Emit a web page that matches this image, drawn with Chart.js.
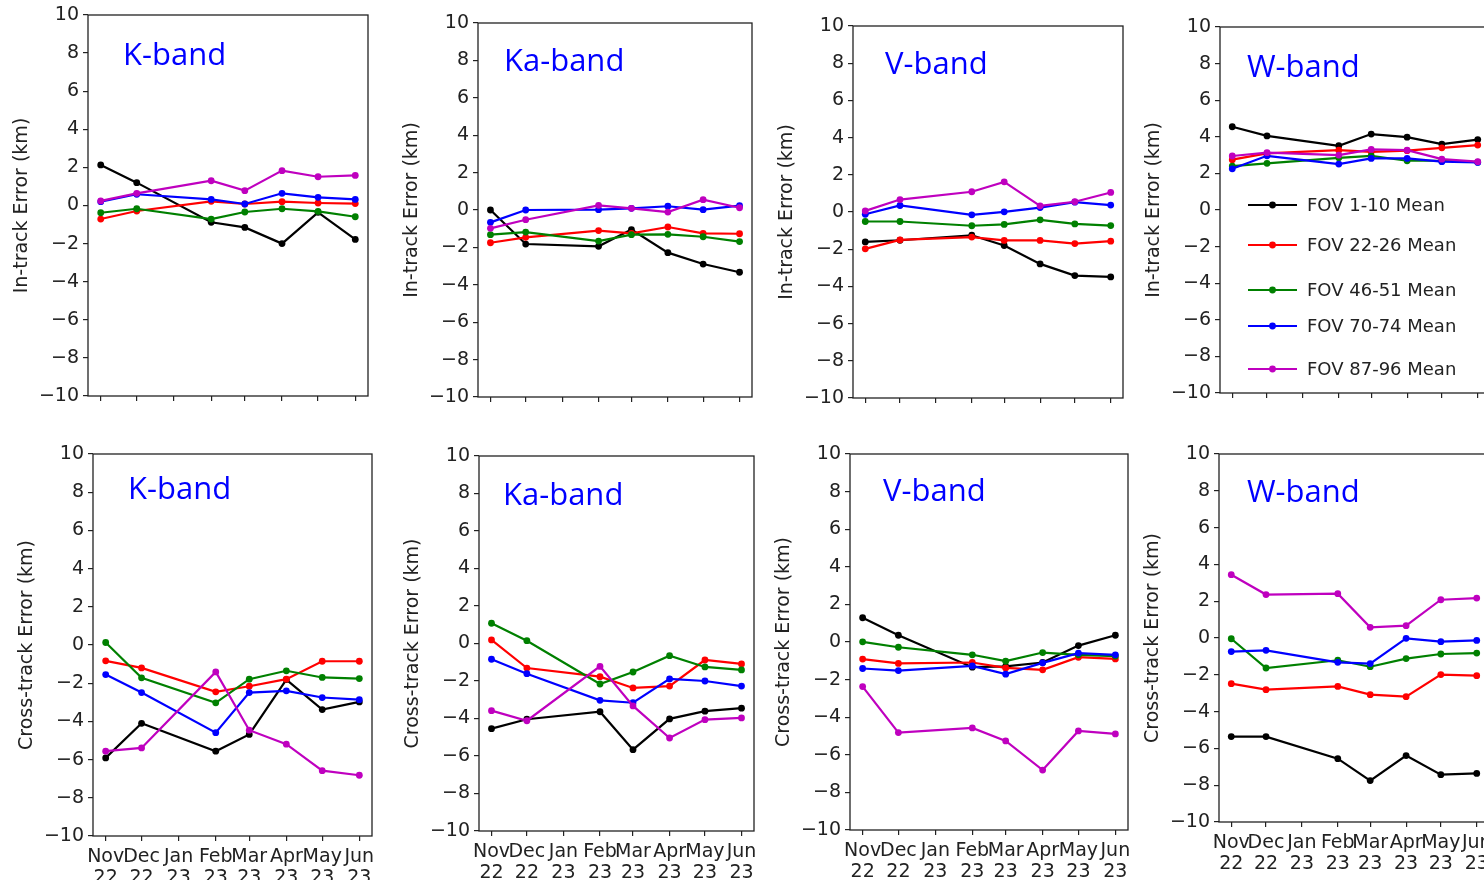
<!DOCTYPE html>
<html>
<head>
<meta charset="utf-8">
<title>In-track / cross-track error by band</title>
<script src="https://cdn.jsdelivr.net/npm/chart.js@4.4.1/dist/chart.umd.min.js"></script>
<style>
  html, body { margin: 0; padding: 0; width: 1484px; height: 880px; overflow: hidden; background: #fff; }
  canvas { position: absolute; }
</style>
</head>
<body>
<script>
// months on the x axis, as day offsets from 1 Nov 2022
const monthLabels = ['Nov', 'Dec', 'Jan', 'Feb', 'Mar', 'Apr', 'May', 'Jun'];
const yearLabels = ['22', '22', '23', '23', '23', '23', '23', '23'];
const monthStarts = [0, 30, 61, 92, 120, 151, 181, 212];
// no January sample
const sampleMonths = [0, 1, 3, 4, 5, 6, 7];

const seriesLabels = ['FOV 1-10 Mean', 'FOV 22-26 Mean', 'FOV 46-51 Mean', 'FOV 70-74 Mean', 'FOV 87-96 Mean'];
const seriesColors = ['#000000', '#ff0000', '#008000', '#0000ff', '#bf00bf'];

const kInTrack = [
    [2.13, 1.2, -0.88, -1.15, -2.0, -0.36, -1.78],
    [-0.71, -0.29, 0.22, 0.08, 0.2, 0.13, 0.1],
    [-0.38, -0.17, -0.71, -0.34, -0.17, -0.31, -0.59],
    [0.2, 0.59, 0.32, 0.08, 0.64, 0.43, 0.32],
    [0.24, 0.64, 1.3, 0.78, 1.83, 1.51, 1.58]
];
const kaInTrack = [
    [0, -1.82, -1.94, -1.05, -2.28, -2.89, -3.33],
    [-1.75, -1.46, -1.1, -1.25, -0.91, -1.25, -1.27],
    [-1.32, -1.18, -1.66, -1.32, -1.3, -1.43, -1.69],
    [-0.66, 0, 0.02, 0.09, 0.2, 0.02, 0.23],
    [-0.98, -0.52, 0.25, 0.09, -0.11, 0.55, 0.12]
];
const vInTrack = [
    [-1.61, -1.52, -1.25, -1.8, -2.79, -3.42, -3.49],
    [-1.98, -1.5, -1.35, -1.53, -1.53, -1.7, -1.57],
    [-0.51, -0.51, -0.74, -0.67, -0.42, -0.64, -0.73],
    [-0.12, 0.35, -0.15, 0.01, 0.24, 0.53, 0.37],
    [0.06, 0.67, 1.09, 1.62, 0.33, 0.55, 1.05]
];
const wInTrack = [
    [4.55, 4.05, 3.51, 4.15, 3.98, 3.6, 3.85],
    [2.75, 3.09, 3.27, 3.18, 3.24, 3.4, 3.55],
    [2.4, 2.55, 2.85, 2.96, 2.69, 2.69, 2.62],
    [2.25, 2.96, 2.51, 2.82, 2.82, 2.64, 2.6],
    [2.95, 3.13, 3.0, 3.31, 3.27, 2.78, 2.64]
];
const kCrossTrack = [
    [-5.91, -4.1, -5.56, -4.68, -1.81, -3.38, -2.98],
    [-0.83, -1.2, -2.45, -2.16, -1.79, -0.85, -0.85],
    [0.13, -1.72, -3.03, -1.79, -1.35, -1.7, -1.76],
    [-1.55, -2.49, -4.59, -2.49, -2.4, -2.75, -2.86],
    [-5.56, -5.39, -1.41, -4.46, -5.19, -6.58, -6.82]
];
const kaCrossTrack = [
    [-4.54, -4.04, -3.64, -5.66, -4.02, -3.61, -3.45],
    [0.19, -1.31, -1.77, -2.37, -2.27, -0.88, -1.09],
    [1.08, 0.15, -2.16, -1.52, -0.65, -1.25, -1.41],
    [-0.84, -1.61, -3.03, -3.16, -1.89, -2.0, -2.27],
    [-3.58, -4.12, -1.22, -3.33, -5.04, -4.06, -3.97]
];
const vCrossTrack = [
    [1.29, 0.36, -1.34, -1.3, -1.09, -0.19, 0.36],
    [-0.91, -1.14, -1.09, -1.38, -1.48, -0.81, -0.9],
    [0.01, -0.28, -0.68, -1.02, -0.56, -0.68, -0.75],
    [-1.41, -1.52, -1.27, -1.71, -1.11, -0.59, -0.68],
    [-2.37, -4.82, -4.57, -5.26, -6.81, -4.73, -4.89]
];
const wCrossTrack = [
    [-5.36, -5.36, -6.56, -7.75, -6.39, -7.43, -7.36],
    [-2.48, -2.81, -2.63, -3.08, -3.19, -1.99, -2.05],
    [-0.04, -1.63, -1.21, -1.56, -1.12, -0.87, -0.82],
    [-0.74, -0.67, -1.32, -1.39, -0.02, -0.2, -0.13],
    [3.44, 2.36, 2.41, 0.58, 0.67, 2.08, 2.17]
];

// plot box [left, top, right, bottom] on the page, band label offset inside the box
const panels = [
    { band: 'K-band',  values: kInTrack,     title: 'In-track Error (km)',    box: [88, 15, 368, 396],    label: [35, 28] },
    { band: 'Ka-band', values: kaInTrack,    title: 'In-track Error (km)',    box: [478, 23, 752, 397],   label: [26, 26] },
    { band: 'V-band',  values: vInTrack,     title: 'In-track Error (km)',    box: [853, 26, 1123, 398],  label: [32, 26] },
    { band: 'W-band',  values: wInTrack,     title: 'In-track Error (km)',    box: [1220, 27, 1490, 393], label: [27, 28], legendRows: [178, 218, 263, 299, 342] },
    { band: 'K-band',  values: kCrossTrack,  title: 'Cross-track Error (km)', box: [93, 454, 372, 836],   label: [35, 23], months: true },
    { band: 'Ka-band', values: kaCrossTrack, title: 'Cross-track Error (km)', box: [479, 456, 754, 831],  label: [24, 27], months: true },
    { band: 'V-band',  values: vCrossTrack,  title: 'Cross-track Error (km)', box: [850, 454, 1128, 830], label: [33, 25], months: true },
    { band: 'W-band',  values: wCrossTrack,  title: 'Cross-track Error (km)', box: [1219, 454, 1489, 822], label: [28, 26], months: true }
];

const AXIS_Y_W = 90;
const AXIS_X_H = 60;
const PAD_TOP = 16;
const PAD_RIGHT = 30;
const INK = '#222';
const MPL_FONT = "'DejaVu Sans', sans-serif";

// frame, band name and (optionally) the series legend
const panelDecor = {
    id: 'panelDecor',
    afterDraw(chart, args, opts) {
        const { ctx, chartArea: a } = chart;
        ctx.save();
        ctx.strokeStyle = INK;
        ctx.lineWidth = 1.3;
        ctx.strokeRect(a.left, a.top, a.right - a.left, a.bottom - a.top);

        ctx.fillStyle = '#0000ff';
        ctx.font = "31px 'Open Sans', sans-serif";
        ctx.textBaseline = 'alphabetic';
        ctx.fillText(opts.band, a.left + opts.dx, a.top + opts.dy + 22);

        if (opts.legendRows) {
            ctx.font = '18px ' + MPL_FONT;
            ctx.textBaseline = 'middle';
            chart.data.datasets.forEach((ds, i) => {
                const y = a.top + opts.legendRows[i];
                ctx.strokeStyle = ds.borderColor;
                ctx.lineWidth = 2.2;
                ctx.beginPath();
                ctx.moveTo(a.left + 28, y);
                ctx.lineTo(a.left + 77, y);
                ctx.stroke();
                ctx.fillStyle = ds.borderColor;
                ctx.beginPath();
                ctx.arc(a.left + 52.5, y, 3.4, 0, Math.PI * 2);
                ctx.fill();
                ctx.fillStyle = INK;
                ctx.fillText(ds.label, a.left + 87, y + 1);
            });
        }
        ctx.restore();
    }
};

document.addEventListener('DOMContentLoaded', () => {
    panels.forEach(dibujarPanel);
});

function dibujarPanel(panel) {
    const [left, top, right, bottom] = panel.box;
    const canvas = document.createElement('canvas');
    canvas.width = (right - left) + AXIS_Y_W + PAD_RIGHT;
    canvas.height = (bottom - top) + PAD_TOP + AXIS_X_H;
    canvas.style.left = (left - AXIS_Y_W) + 'px';
    canvas.style.top = (top - PAD_TOP) + 'px';
    document.body.appendChild(canvas);

    const span = monthStarts[monthStarts.length - 1] - monthStarts[0];
    const margin = span * 0.05;

    new Chart(canvas.getContext('2d'), {
        type: 'line',
        data: {
            datasets: seriesLabels.map((label, i) => ({
                label,
                data: panel.values[i].map((v, j) => ({ x: monthStarts[sampleMonths[j]], y: v })),
                borderColor: seriesColors[i],
                backgroundColor: seriesColors[i],
                pointBackgroundColor: seriesColors[i],
                borderWidth: 2.2,
                pointRadius: 3.4,
                pointBorderWidth: 0,
                tension: 0,
                order: seriesLabels.length - i
            }))
        },
        options: {
            responsive: false,
            animation: false,
            events: [],
            layout: { padding: { top: PAD_TOP, right: PAD_RIGHT, left: 0, bottom: 0 } },
            plugins: {
                legend: { display: false },
                tooltip: { enabled: false },
                panelDecor: {
                    band: panel.band,
                    dx: panel.label[0],
                    dy: panel.label[1],
                    legendRows: panel.legendRows || null
                }
            },
            scales: {
                x: {
                    type: 'linear',
                    min: monthStarts[0] - margin,
                    max: monthStarts[monthStarts.length - 1] + margin,
                    afterBuildTicks: (axis) => {
                        axis.ticks = monthStarts.map(v => ({ value: v }));
                    },
                    afterFit: (scale) => { scale.height = AXIS_X_H; },
                    ticks: {
                        autoSkip: false,
                        maxRotation: 0,
                        minRotation: 0,
                        padding: 6,
                        color: INK,
                        font: { family: MPL_FONT, size: 19, lineHeight: 1.1 },
                        callback: (value, index) => panel.months ? [monthLabels[index], yearLabels[index]] : ''
                    },
                    grid: {
                        drawOnChartArea: false,
                        drawTicks: true,
                        tickLength: 5,
                        color: INK,
                        lineWidth: 1.2
                    },
                    border: { display: false }
                },
                y: {
                    min: -10,
                    max: 10,
                    afterFit: (scale) => { scale.width = AXIS_Y_W; },
                    ticks: {
                        stepSize: 2,
                        padding: 4,
                        color: INK,
                        font: { family: MPL_FONT, size: 19 },
                        callback: (value) => String(value).replace('-', '\u2212')
                    },
                    grid: {
                        drawOnChartArea: false,
                        drawTicks: true,
                        tickLength: 5,
                        color: INK,
                        lineWidth: 1.2
                    },
                    border: { display: false },
                    title: {
                        display: true,
                        text: panel.title,
                        color: INK,
                        font: { family: MPL_FONT, size: 19 },
                        padding: { top: 13, bottom: 0 }
                    }
                }
            }
        },
        plugins: [panelDecor]
    });
}
</script>
</body>
</html>
